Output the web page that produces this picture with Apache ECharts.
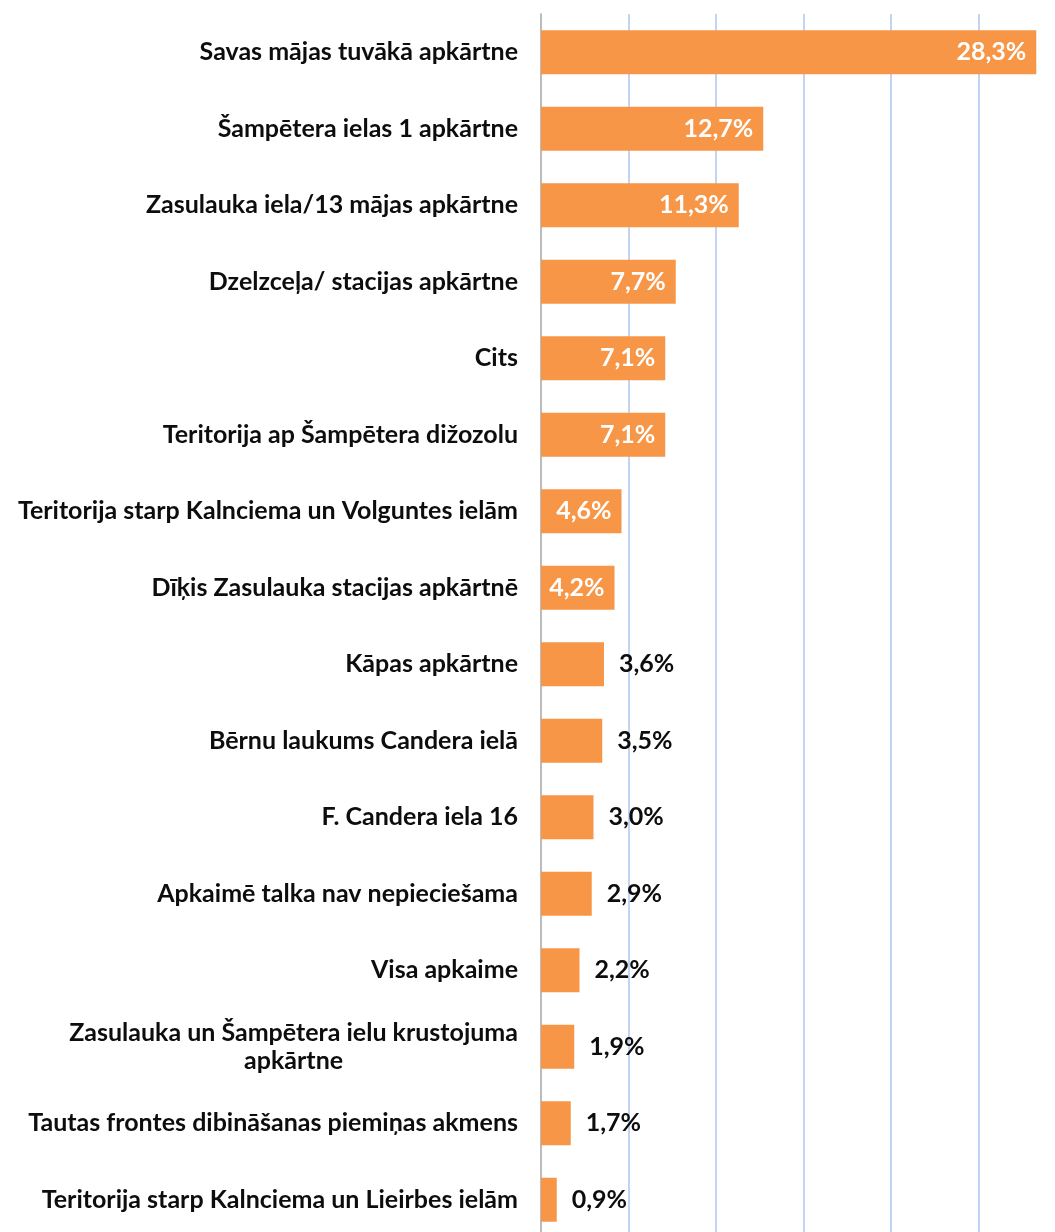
<!DOCTYPE html>
<html>
<head>
<meta charset="utf-8">
<script src="https://cdn.jsdelivr.net/npm/echarts@6/dist/echarts.min.js"></script>
<style>
  html, body { margin: 0; padding: 0; background: #fff; }
  #chart { width: 1055px; height: 1232px; }
</style>
</head>
<body>
<div id="chart"></div>
<script>
// kategorijas (no augšas uz leju)
const categories = [
  'Savas mājas tuvākā apkārtne',
  'Šampētera ielas 1 apkārtne',
  'Zasulauka iela/13 mājas apkārtne',
  'Dzelzceļa/ stacijas apkārtne',
  'Cits',
  'Teritorija ap Šampētera dižozolu',
  'Teritorija starp Kalnciema un Volguntes ielām',
  'Dīķis Zasulauka stacijas apkārtnē',
  'Kāpas apkārtne',
  'Bērnu laukums Candera ielā',
  'F. Candera iela 16',
  'Apkaimē talka nav nepieciešama',
  'Visa apkaime',
  'Zasulauka un Šampētera ielu krustojuma\napkārtne',
  'Tautas frontes dibināšanas piemiņas akmens',
  'Teritorija starp Kalnciema un Lieirbes ielām'
];
// procenti
const values = [28.3, 12.7, 11.3, 7.7, 7.1, 7.1, 4.6, 4.2, 3.6, 3.5, 3.0, 2.9, 2.2, 1.9, 1.7, 0.9];
// ass: 0..30 ar soli 5, attēls nogriezts pie ~29,4
const xMin = 0;
const xMax = 29.37;
const xStep = 5;

const FONT = 'Lato';
const fmt = v => v.toFixed(1).replace('.', ',') + '%';

const myChart = echarts.init(document.getElementById('chart'));

const seriesData = values.map(v => {
  const inside = v >= 4;
  return {
    value: v,
    label: inside
      ? { position: 'insideRight', distance: 10, color: '#ffffff' }
      : { position: 'right', distance: 15, color: '#0d0d0d' }
  };
});

const option = {
  animation: false,
  grid: {
    left: 541,
    top: 14,
    right: 0,
    height: 1224,
    containLabel: false,
    outerBoundsMode: 'none'
  },
  xAxis: {
    type: 'value',
    min: xMin,
    max: xMax,
    interval: xStep,
    axisLabel: { show: false },
    axisLine: { show: false },
    axisTick: { show: false },
    splitLine: {
      show: true,
      showMinLine: false,
      showMaxLine: false,
      lineStyle: { color: '#aec6ec', width: 1.5 }
    }
  },
  yAxis: {
    type: 'category',
    inverse: true,
    data: categories,
    axisTick: { show: false },
    axisLine: { show: true, lineStyle: { color: '#a6a6a6', width: 1.5 } },
    axisLabel: {
      margin: 23,
      align: 'right',
      fontFamily: FONT,
      fontWeight: 'bold',
      fontSize: 25,
      color: '#0d0d0d',
      formatter: function (val) {
        if (val.indexOf('\n') >= 0) {
          return val.split('\n').map(s => '{c|' + s + '}').join('\n');
        }
        return val;
      },
      rich: {
        c: {
          align: 'center',
          fontFamily: FONT,
          fontWeight: 'bold',
          fontSize: 25,
          lineHeight: 28,
          color: '#0d0d0d'
        }
      }
    }
  },
  series: [
    {
      type: 'bar',
      data: seriesData,
      barWidth: 44,
      itemStyle: { color: '#f79646' },
      label: {
        show: true,
        fontFamily: FONT,
        fontWeight: 'bold',
        fontSize: 25,
        formatter: p => fmt(p.value)
      }
    }
  ]
};

myChart.setOption(option);
</script>
</body>
</html>
